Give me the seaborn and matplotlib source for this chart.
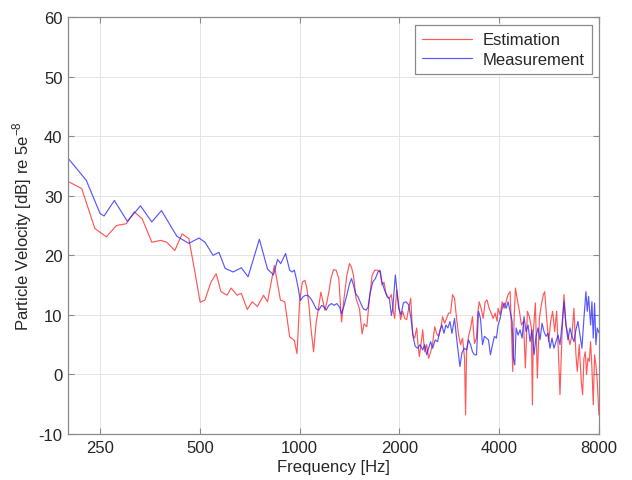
import numpy as np
import pandas as pd
import seaborn as sns
import matplotlib
matplotlib.use("Agg")
import matplotlib.pyplot as plt
from matplotlib.ticker import FixedLocator, NullLocator

# Measurement (blue)
meas_freq = [200, 227, 250, 257, 276, 302, 331, 358, 383, 426, 463, 497, 518, 548, 571, 596,
             630, 667, 699, 756, 800, 834, 858, 877, 907, 933, 950, 964, 977, 991, 1005, 1023,
             1042, 1062, 1082, 1102, 1122, 1143, 1165, 1186, 1203, 1225, 1248, 1271, 1295,
             1320, 1338, 1363, 1388, 1414, 1434, 1454, 1474, 1502, 1530, 1558, 1587, 1609,
             1632, 1662, 1693, 1724, 1748, 1773, 1806, 1839, 1866, 1892, 1910, 1945, 1963,
             1991, 2023, 2056, 2094, 2133, 2168, 2204, 2234, 2271, 2308, 2352, 2384, 2418,
             2450, 2486, 2520, 2566, 2608, 2652, 2688, 2726, 2764, 2802, 2842, 2882, 2934,
             2976, 3018, 3046, 3088, 3138, 3190, 3234, 3280, 3324, 3370, 3418, 3466, 3514,
             3564, 3612, 3664, 3714, 3766, 3820, 3872, 3926, 3972, 4028, 4084, 4141, 4199,
             4257, 4317, 4377, 4418, 4459, 4501, 4564, 4627, 4692, 4757, 4823, 4891, 4959,
             5027, 5098, 5169, 5242, 5315, 5389, 5464, 5540, 5617, 5696, 5775, 5856, 5938,
             6021, 6105, 6190, 6277, 6364, 6453, 6543, 6634, 6727, 6821, 6916, 7013, 7111,
             7210, 7311, 7379, 7448, 7552, 7622, 7693, 7764, 7836, 7909, 8000]
meas_db = [36.3, 32.6, 27.0, 26.6, 29.2, 25.7, 28.3, 25.6, 27.5, 23.2, 22.0, 22.9, 22.2, 20.0,
           20.5, 17.8, 17.2, 17.9, 16.4, 22.7, 17.7, 16.7, 19.3, 18.6, 20.3, 17.5, 17.2, 17.5,
           16.1, 14.4, 12.4, 13.0, 13.3, 13.2, 12.7, 11.9, 11.0, 10.8, 11.6, 11.3, 10.8, 11.6,
           11.9, 11.6, 11.9, 11.3, 10.2, 11.6, 13.3, 15.2, 16.1, 15.0, 13.6, 13.0, 11.9, 11.0,
           10.8, 11.3, 13.6, 15.5, 16.1, 17.2, 17.5, 15.5, 14.1, 13.0, 12.7, 9.9, 11.1, 16.7,
           14.5, 11.1, 10.0, 12.0, 12.2, 11.7, 9.4, 6.1, 4.7, 4.4, 5.0, 4.1, 5.0, 3.3, 4.4,
           5.5, 4.4, 5.8, 5.5, 7.5, 8.3, 6.9, 8.3, 7.8, 8.9, 6.9, 9.4, 6.1, 3.3, 1.3, 3.6,
           4.4, 4.1, 5.8, 5.0, 3.8, 3.3, 3.3, 10.6, 9.4, 5.0, 6.4, 6.1, 5.8, 3.3, 5.0, 6.4,
           6.1, 8.3, 9.4, 11.1, 12.0, 11.1, 12.2, 10.6, 8.9, 2.7, 1.6, 7.8, 6.6, 7.5, 6.1,
           9.7, 7.2, 8.3, 5.5, 7.5, 3.3, 6.4, 7.8, 5.8, 8.6, 7.2, 6.4, 6.9, 4.4, 6.1, 4.4,
           5.5, 6.6, 5.0, 8.3, 12.2, 8.3, 5.8, 7.8, 6.4, 5.5, 7.5, 8.9, 6.6, 4.4, 9.4, 13.9,
           10.6, 13.1, 8.3, 12.2, 6.1, 12.0, 5.0, 7.8, 7.0]

# Estimation (red)
est_freq = [200, 220, 241, 261, 280, 300, 317, 335, 358, 381, 397, 420, 442, 463, 483, 501,
            518, 540, 560, 579, 604, 621, 648, 667, 695, 719, 746, 778, 800, 839, 875, 902,
            933, 950, 964, 982, 1000, 1019, 1038, 1052, 1067, 1082, 1102, 1122, 1138, 1159,
            1176, 1192, 1209, 1225, 1243, 1266, 1289, 1313, 1338, 1363, 1388, 1414, 1434,
            1454, 1481, 1516, 1544, 1565, 1595, 1624, 1655, 1685, 1717, 1748, 1773, 1797,
            1822, 1848, 1866, 1892, 1918, 1936, 1963, 1991, 2018, 2046, 2076, 2104, 2134,
            2164, 2194, 2224, 2256, 2276, 2298, 2330, 2352, 2384, 2418, 2450, 2486, 2520,
            2556, 2590, 2626, 2664, 2700, 2738, 2776, 2816, 2854, 2894, 2934, 2976, 3018,
            3060, 3102, 3146, 3168, 3190, 3234, 3280, 3324, 3370, 3418, 3448, 3482, 3530,
            3580, 3630, 3678, 3732, 3784, 3838, 3890, 3944, 3972, 4028, 4084, 4141, 4199,
            4257, 4317, 4357, 4397, 4438, 4480, 4542, 4606, 4670, 4735, 4801, 4868, 4936,
            5004, 5040, 5074, 5145, 5217, 5290, 5364, 5439, 5489, 5566, 5643, 5722, 5802,
            5883, 5965, 6049, 6105, 6190, 6277, 6364, 6453, 6543, 6634, 6727, 6821, 6884,
            6980, 7078, 7144, 7210, 7277, 7345, 7413, 7482, 7552, 7622, 7693, 7764, 7836,
            7909, 8000]
est_db = [32.4, 31.2, 24.5, 23.1, 25.0, 25.3, 27.3, 26.1, 22.2, 22.5, 22.2, 20.8, 23.6, 22.8,
          17.2, 12.1, 12.5, 15.5, 16.9, 13.9, 13.3, 14.5, 13.3, 13.6, 10.9, 12.2, 11.4, 13.3,
          12.2, 18.3, 12.5, 12.2, 6.3, 6.0, 5.7, 3.5, 12.2, 15.5, 15.8, 14.4, 11.6, 7.7, 3.8,
          8.8, 10.8, 13.8, 12.2, 10.8, 12.2, 13.8, 16.1, 17.6, 17.5, 16.1, 8.8, 13.0, 16.6,
          18.6, 18.0, 16.6, 12.7, 11.0, 6.8, 8.5, 8.0, 12.7, 16.6, 17.5, 17.5, 17.2, 15.0,
          15.5, 13.6, 13.0, 12.8, 13.4, 10.6, 9.4, 14.2, 11.7, 9.2, 10.6, 9.4, 9.2, 11.1,
          12.8, 6.6, 6.1, 7.8, 5.0, 3.0, 5.5, 7.5, 3.8, 5.0, 2.7, 3.8, 5.2, 8.0, 6.9, 6.4,
          7.5, 9.7, 8.6, 9.4, 10.3, 10.3, 13.4, 12.8, 9.4, 6.6, 5.0, 6.1, 2.7, -6.8, 3.8,
          6.4, 7.8, 9.7, 5.2, 6.1, 10.3, 12.2, 11.1, 9.4, 12.2, 12.5, 11.1, 10.3, 9.4, 10.3,
          8.9, 11.1, 10.0, 12.2, 11.1, 12.2, 13.4, 13.9, 7.8, 0.5, 9.4, 14.5, 12.5, 10.6,
          8.3, 8.9, 1.1, 10.6, 9.7, 7.8, -5.1, 7.2, 12.0, -0.6, 9.4, 11.7, 13.4, 13.9, 9.4,
          5.5, 8.9, 10.6, 7.2, 10.6, 2.7, -3.4, 6.6, 13.4, 8.3, 6.6, 5.0, 6.6, 11.1, 3.3,
          0.5, 5.0, -1.2, -3.4, 2.7, 3.8, 0.0, 2.7, 2.2, 5.5, 1.1, -5.1, 3.3, 1.6, -1.0, -6.8]

x_ticks = [250, 500, 1000, 2000, 4000, 8000]
y_ticks = [-10, 0, 10, 20, 30, 40, 50, 60]

df = pd.concat([
    pd.DataFrame({"Frequency": est_freq, "Level": est_db, "Series": "Estimation"}),
    pd.DataFrame({"Frequency": meas_freq, "Level": meas_db, "Series": "Measurement"}),
], ignore_index=True)

sns.set_theme(style="white")
plt.rcParams["font.family"] = ["Liberation Sans", "DejaVu Sans"]
plt.rcParams["axes.unicode_minus"] = False

fig = plt.figure(figsize=(6.32, 4.81), dpi=100)
ax = fig.add_axes([0.1076, 0.0956, 0.840, 0.867])

sns.lineplot(data=df, x="Frequency", y="Level", hue="Series",
             palette={"Estimation": "#ff2020", "Measurement": "#2020ff"},
             estimator=None, sort=False, linewidth=0.85, alpha=0.75, ax=ax)

ax.set_xscale("log")
ax.set_xlim(200, 8000)
ax.set_ylim(-10, 60)
ax.xaxis.set_major_locator(FixedLocator(x_ticks))
ax.xaxis.set_minor_locator(NullLocator())
ax.set_xticklabels([str(t) for t in x_ticks])
ax.set_yticks(y_ticks)
ax.set_yticklabels([str(t) for t in y_ticks])

ax.grid(True, color="#e4e4e4", linewidth=0.7)
for s in ax.spines.values():
    s.set_color("#8a8a8a")
    s.set_linewidth(0.9)
ax.tick_params(axis="both", which="major", direction="in", length=4, width=0.8,
               color="#8a8a8a", labelsize=12, labelcolor="#262626",
               top=True, right=True, bottom=True, left=True, pad=4)

ax.set_xlabel("Frequency [Hz]", fontsize=12, color="#262626", labelpad=3)
ax.set_ylabel("Particle Velocity [dB] re 5e$^{\\mathregular{-8}}$", fontsize=12,
              color="#262626", labelpad=3)

leg = ax.legend(loc="upper right", fontsize=12, frameon=True, fancybox=False,
                edgecolor="#8a8a8a", framealpha=1, borderpad=0.45, handlelength=3.0,
                handletextpad=0.6, labelspacing=0.25, borderaxespad=0,
                bbox_to_anchor=(0.987, 0.981))
leg.get_frame().set_linewidth(0.9)
for t in leg.get_texts():
    t.set_color("#262626")

fig.savefig("out.png", dpi=100)
